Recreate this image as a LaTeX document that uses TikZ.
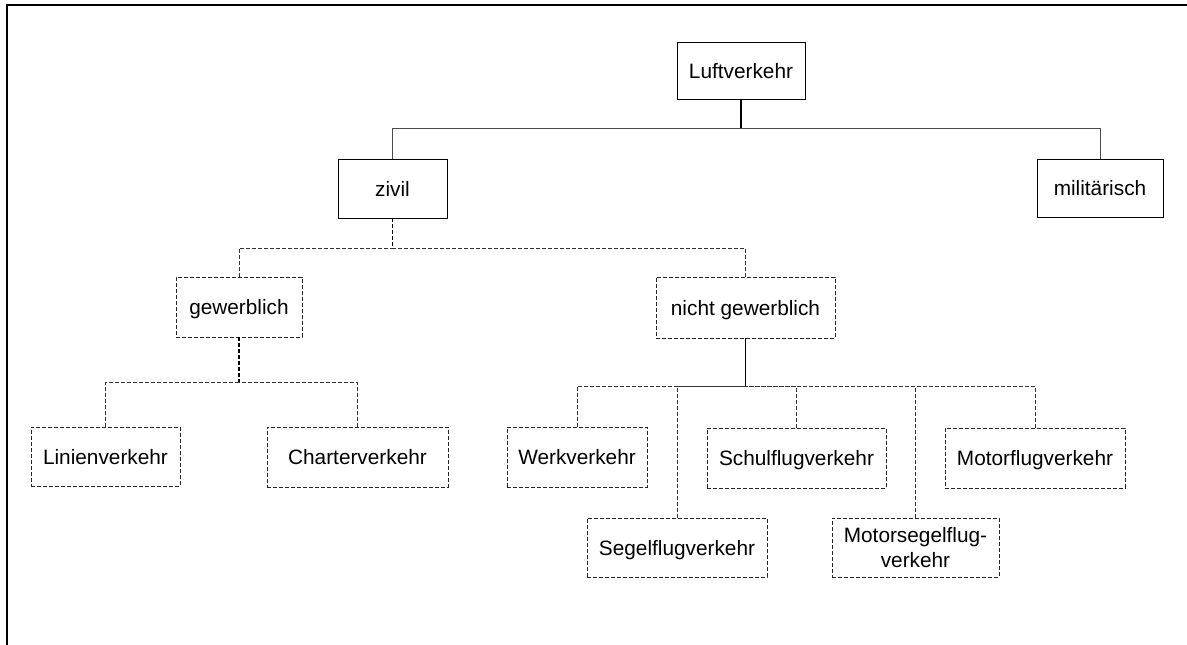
\documentclass[tikz,border=0pt]{standalone}
\usepackage{fontspec}
\setmainfont{Liberation Sans}
\begin{document}
\begin{tikzpicture}[x=1pt,y=-1pt,
  basebox/.style={draw, line width=0.9pt, inner sep=0pt, font=\fontsize{20.8}{25}\selectfont},
  box/.style={basebox, text height=15pt, text depth=0pt},
  dbox/.style={box, draw=black!85, dash pattern=on 4pt off 2pt},
  dbox2/.style={basebox, draw=black!85, dash pattern=on 4pt off 2pt, align=center},
  bus/.style={draw=black!70, line width=0.9pt},
  dbus/.style={draw=black!80, line width=0.9pt, dash pattern=on 4pt off 2pt},
  stem/.style={draw=black, line width=1.5pt},
  dstem/.style={draw=black, line width=1.5pt, dash pattern=on 4pt off 2pt}]
\useasboundingbox (0,0) rectangle (1187,645);
\draw[line width=2pt] (7,645) -- (7,5) -- (1187,5);

\node[box, minimum width=128pt, minimum height=57pt] (luft) at (741,70.5) {Luftverkehr};
\node[box, minimum width=109pt, minimum height=59pt] (zivil) at (392.5,188.5) {zivil};
\node[box, minimum width=126pt, minimum height=58pt] (mil) at (1100,188) {militärisch};
\node[dbox, minimum width=126pt, minimum height=60pt] (gew) at (239,307) {gewerblich};
\node[dbox, minimum width=179pt, minimum height=61pt] (ngew) at (745.5,307.5) {nicht gewerblich};
\node[dbox, minimum width=149pt, minimum height=59pt] (lin) at (105.5,456.5) {Linienverkehr};
\node[dbox, minimum width=181pt, minimum height=60pt] (char) at (357.5,457) {Charterverkehr};
\node[dbox, minimum width=140pt, minimum height=60pt] (werk) at (577,457) {Werkverkehr};
\node[dbox, minimum width=179pt, minimum height=60pt] (schul) at (796.5,458) {Schulflugverkehr};
\node[dbox, minimum width=180pt, minimum height=60pt] (motor) at (1035,458) {Motorflugverkehr};
\node[dbox, minimum width=180pt, minimum height=59pt] (segel) at (677,547.5) {Segelflugverkehr};
\node[dbox2, minimum width=167pt, minimum height=59pt] (msegel) at (915.5,547.5) {Motorsegelflug-\\verkehr};

\coordinate (b1) at (luft.south |- 0,128);
\coordinate (b2) at (zivil.south |- 0,248);
\coordinate (b3) at (gew.south |- 0,382);
\coordinate (b4) at (ngew.south |- 0,386);

\draw[stem] (luft.south) -- (b1);
\draw[bus] (zivil.north) |- (b1);
\draw[bus] (mil.north) |- (b1);

\draw[dstem] (zivil.south) -- (b2);
\draw[dbus] (gew.north) |- (b2);
\draw[dbus] (ngew.north) |- (b2);

\draw[dstem] (gew.south) -- (b3);
\draw[dbus] (lin.north) |- (b3);
\draw[dbus] (char.north) |- (b3);

\draw[stem] (ngew.south) -- (b4);
\draw[dbus] (werk.north) |- (b4);
\draw[dbus] (segel.north) |- (b4);
\draw[dbus] (schul.north) |- (b4);
\draw[dbus] (msegel.north) |- (b4);
\draw[dbus] (motor.north) |- (b4);
\end{tikzpicture}
\end{document}
